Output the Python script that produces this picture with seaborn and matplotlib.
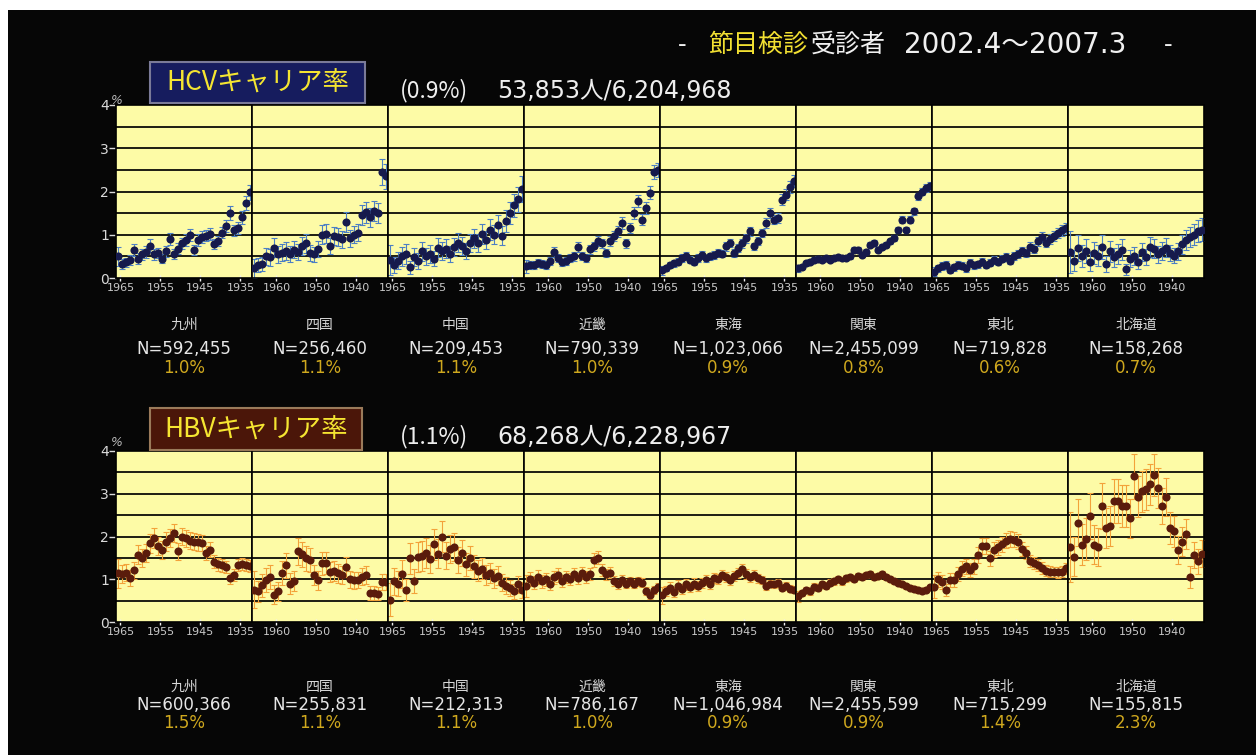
import numpy as np
import matplotlib
matplotlib.use("Agg")
import matplotlib.pyplot as plt
import seaborn as sns
from matplotlib.patches import Rectangle

# ---------------- data ----------------
regions = ["九州", "四国", "中国", "近畿", "東海", "関東", "東北", "北海道"]

# birth-year cohorts, youngest (left) to oldest (right)
birth_year = [1965.5 - i for i in range(34)]

hcv_kyushu = [0.50, 0.32, 0.36, 0.42, 0.65, 0.45, 0.55, 0.60, 0.75, 0.55, 0.58, 0.45,
              0.62, 0.90, 0.55, 0.68, 0.80, 0.88, 1.00, 0.65, 0.88, 0.95, 0.98, 1.02,
              0.78, 0.85, 1.05, 1.20, 1.50, 1.10, 1.15, 1.40, 1.73, 1.98]
hcv_shikoku = [0.22, 0.30, 0.33, 0.50, 0.48, 0.70, 0.55, 0.58, 0.62, 0.55, 0.65, 0.60,
               0.75, 0.80, 0.58, 0.55, 0.68, 1.00, 1.02, 0.75, 0.98, 0.95, 0.90, 1.30,
               0.92, 1.00, 1.05, 1.45, 1.52, 1.40, 1.55, 1.50, 2.45, 2.35]
hcv_chugoku = [0.42, 0.30, 0.40, 0.50, 0.55, 0.25, 0.48, 0.40, 0.62, 0.50, 0.55, 0.45,
               0.70, 0.62, 0.68, 0.55, 0.72, 0.82, 0.75, 0.62, 0.80, 0.92, 0.82, 1.02,
               0.88, 1.12, 1.00, 1.22, 0.98, 1.32, 1.50, 1.68, 1.82, 2.05]
hcv_kinki = [0.27, 0.30, 0.30, 0.34, 0.32, 0.30, 0.40, 0.61, 0.46, 0.36, 0.40, 0.46,
             0.50, 0.71, 0.50, 0.46, 0.66, 0.73, 0.85, 0.80, 0.58, 0.85, 0.96, 1.08,
             1.27, 0.80, 1.15, 1.50, 1.78, 1.35, 1.62, 1.97, 2.45, 2.50]
hcv_tokai = [0.18, 0.22, 0.30, 0.34, 0.38, 0.46, 0.50, 0.42, 0.38, 0.46, 0.53, 0.46,
             0.50, 0.53, 0.58, 0.56, 0.73, 0.81, 0.58, 0.69, 0.80, 0.92, 1.08, 0.73,
             0.85, 1.04, 1.27, 1.50, 1.35, 1.38, 1.81, 1.93, 2.10, 2.24]
hcv_kanto = [0.22, 0.26, 0.34, 0.38, 0.42, 0.44, 0.42, 0.46, 0.42, 0.46, 0.48, 0.46,
             0.46, 0.50, 0.65, 0.65, 0.53, 0.61, 0.77, 0.81, 0.65, 0.72, 0.77, 0.85,
             0.92, 1.12, 1.35, 1.12, 1.35, 1.54, 1.89, 2.00, 2.08, 2.12]
hcv_tohoku = [0.15, 0.22, 0.28, 0.30, 0.18, 0.25, 0.30, 0.28, 0.22, 0.35, 0.30, 0.32,
              0.38, 0.30, 0.35, 0.42, 0.38, 0.45, 0.48, 0.40, 0.50, 0.55, 0.62, 0.58,
              0.72, 0.68, 0.85, 0.95, 0.82, 0.90, 0.98, 1.05, 1.10, 1.15]
hcv_hokkaido = [0.60, 0.40, 0.70, 0.50, 0.62, 0.38, 0.58, 0.52, 0.72, 0.32, 0.62, 0.48,
                0.55, 0.65, 0.20, 0.45, 0.52, 0.38, 0.60, 0.48, 0.72, 0.68, 0.55, 0.62,
                0.70, 0.58, 0.52, 0.62, 0.78, 0.88, 0.95, 1.00, 1.08, 1.12]

hbv_kyushu = [1.14, 1.12, 1.15, 1.03, 1.21, 1.57, 1.49, 1.61, 1.84, 1.96, 1.77, 1.69,
              1.88, 1.96, 2.08, 1.65, 2.00, 1.96, 1.90, 1.88, 1.86, 1.84, 1.61, 1.69,
              1.41, 1.35, 1.33, 1.29, 1.02, 1.10, 1.33, 1.35, 1.33, 1.30]
hbv_shikoku = [0.76, 0.72, 0.86, 0.98, 1.06, 0.64, 0.72, 1.14, 1.33, 0.90, 0.96, 1.65,
               1.58, 1.49, 1.45, 1.10, 0.98, 1.37, 1.38, 1.18, 1.20, 1.14, 1.10, 1.29,
               1.00, 0.98, 0.98, 1.06, 1.10, 0.68, 0.68, 0.66, 0.94, 0.94]
hbv_chugoku = [0.52, 0.95, 0.90, 1.12, 0.75, 1.49, 0.95, 1.53, 1.55, 1.62, 1.48, 1.82,
               1.60, 2.00, 1.55, 1.70, 1.75, 1.45, 1.62, 1.35, 1.50, 1.30, 1.20, 1.25,
               1.10, 1.15, 1.02, 1.08, 0.92, 0.85, 0.80, 0.72, 0.88, 0.75]
hbv_kinki = [0.85, 1.00, 0.92, 1.05, 0.95, 1.00, 0.90, 1.05, 1.10, 0.95, 1.05, 1.00,
             1.12, 1.02, 1.15, 1.05, 1.12, 1.45, 1.50, 1.22, 1.12, 1.15, 0.95, 0.88,
             0.98, 0.90, 0.95, 0.90, 0.95, 0.92, 0.72, 0.62, 0.75, 0.82]
hbv_tokai = [0.62, 0.72, 0.80, 0.70, 0.85, 0.78, 0.88, 0.82, 0.90, 0.85, 0.92, 0.98,
             0.88, 1.02, 1.00, 1.10, 1.05, 0.98, 1.08, 1.15, 1.25, 1.12, 1.05, 1.10,
             1.02, 0.98, 0.85, 0.90, 0.88, 0.92, 0.80, 0.85, 0.78, 0.75]
hbv_kanto = [0.60, 0.68, 0.75, 0.72, 0.82, 0.80, 0.88, 0.85, 0.92, 0.95, 1.00, 0.95,
             1.02, 1.05, 1.00, 1.08, 1.05, 1.10, 1.12, 1.05, 1.08, 1.12, 1.05, 1.00,
             0.95, 0.92, 0.88, 0.84, 0.80, 0.78, 0.74, 0.72, 0.76, 0.82]
hbv_tohoku = [0.83, 1.00, 0.94, 0.75, 0.99, 0.98, 1.12, 1.25, 1.30, 1.22, 1.30, 1.57,
              1.77, 1.78, 1.49, 1.69, 1.75, 1.82, 1.90, 1.94, 1.92, 1.88, 1.70, 1.62,
              1.42, 1.38, 1.34, 1.26, 1.20, 1.18, 1.17, 1.16, 1.18, 1.26]
hbv_hokkaido = [1.75, 1.53, 2.32, 1.81, 1.94, 2.47, 1.81, 1.75, 2.71, 2.20, 2.24, 2.83,
                2.83, 2.71, 2.71, 2.43, 3.41, 2.93, 3.06, 3.10, 3.22, 3.45, 3.14, 2.71,
                2.93, 2.20, 2.12, 1.69, 1.88, 2.06, 1.06, 1.57, 1.42, 1.60]

hcv_n = [592455, 256460, 209453, 790339, 1023066, 2455099, 719828, 158268]
hcv_rate = [1.0, 1.1, 1.1, 1.0, 0.9, 0.8, 0.6, 0.7]
hbv_n = [600366, 255831, 212313, 786167, 1046984, 2455599, 715299, 155815]
hbv_rate = [1.5, 1.1, 1.1, 1.0, 0.9, 0.9, 1.4, 2.3]

# relative number of examinees per birth-year cohort (youngest first)
cohort_weight = [0.20, 0.55, 0.58, 0.60, 0.62, 0.65, 0.68, 0.70, 0.72, 0.75, 0.78, 0.80,
                 0.82, 0.85, 0.88, 0.90, 0.92, 0.95, 1.00, 1.02, 1.05, 1.08, 1.10, 1.12,
                 1.15, 1.18, 1.20, 1.22, 1.25, 1.25, 1.28, 1.30, 1.30, 1.30]

hcv_series = [hcv_kyushu, hcv_shikoku, hcv_chugoku, hcv_kinki,
              hcv_tokai, hcv_kanto, hcv_tohoku, hcv_hokkaido]
hbv_series = [hbv_kyushu, hbv_shikoku, hbv_chugoku, hbv_kinki,
              hbv_tokai, hbv_kanto, hbv_tohoku, hbv_hokkaido]

odd_ticks = [1965, 1955, 1945, 1935]
even_ticks = [1960, 1950, 1940]

# ---------------- style ----------------
sns.set_theme(style="white")
plt.rcParams["font.family"] = ["Noto Sans CJK JP", "DejaVu Sans"]
LATIN = ["DejaVu Sans", "Noto Sans CJK JP"]

W, H = 1256, 755
fig = plt.figure(figsize=(W / 100, H / 100), dpi=100)
fig.patch.set_facecolor("white")
fig.add_artist(Rectangle((8 / W, 0), 1 - 8 / W, 1 - 10 / H, transform=fig.transFigure,
                         facecolor="#060606", edgecolor="none", zorder=-10))


def fx(px):
    return px / W


def fy(py):
    return 1 - py / H


PANEL_BG = "#fdfba6"
GRID = "#1c1c12"
PANEL_LEFT, PANEL_W = 116, 136

weights = np.array(cohort_weight) / np.sum(cohort_weight)


def ci95(rate_pct, n_total):
    p = np.asarray(rate_pct) / 100.0
    n = n_total * weights
    return 1.96 * np.sqrt(p * (1 - p) / n) * 100.0


def draw_row(series, totals, rates, top, bottom, mcolor, ecolor, lab_y):
    for i, vals in enumerate(series):
        left = PANEL_LEFT + i * PANEL_W
        ax = fig.add_axes([fx(left), fy(bottom), PANEL_W / W, (bottom - top) / H])
        ax.set_facecolor(PANEL_BG)
        ax.grid(False)
        ax.set_xlim(1966.1, 1932.1)
        ax.set_ylim(0, 4)
        for yv in np.arange(0.5, 4.0, 0.5):
            ax.axhline(yv, color=GRID, lw=1.4, zorder=1)
        err = ci95(vals, totals[i])
        ax.errorbar(birth_year, vals, yerr=err, fmt="none", ecolor=ecolor,
                    elinewidth=0.8, capsize=2.2, capthick=0.8, zorder=2)
        sns.scatterplot(x=birth_year, y=vals, ax=ax, color=mcolor, s=34,
                        linewidth=0, zorder=3, legend=False)
        ax.set_xlabel("")
        ax.set_ylabel("")
        ticks = odd_ticks if i % 2 == 0 else even_ticks
        ax.set_xticks(ticks)
        ax.set_xticklabels([str(t) for t in ticks], fontsize=8, color="#c8c8c8",
                           family=["DejaVu Sans"])
        ax.tick_params(axis="x", direction="inout", length=5, width=1.0,
                       color="#f0f0f0", pad=1, bottom=True)
        if i == 0:
            ax.set_yticks([0, 1, 2, 3, 4])
            ax.set_yticklabels(["0", "1", "2", "3", "4"], fontsize=10,
                               color="#dadada", family=["DejaVu Sans"])
            ax.tick_params(axis="y", direction="out", length=5, width=1.0,
                           color="#dadada", pad=0, left=True)
        else:
            ax.set_yticks([])
        for sp in ax.spines.values():
            sp.set_color("#000000")
            sp.set_linewidth(1.2)

        cx = fx(left + PANEL_W / 2)
        fig.text(cx, fy(lab_y[0]), regions[i], ha="center", va="center",
                 fontsize=10, color="#d8d8d8")
        fig.text(cx, fy(lab_y[1]), f"N={totals[i]:,}", ha="center", va="center",
                 fontsize=12, color="#e6e6e6", family=LATIN)
        fig.text(cx, fy(lab_y[2]), f"{rates[i]:.1f}%", ha="center", va="center",
                 fontsize=12, color="#cfa81e", family=LATIN)


draw_row(hcv_series, hcv_n, hcv_rate, 105, 278, "#161a4c", "#4d7fc4", (325, 349, 368))
draw_row(hbv_series, hbv_n, hbv_rate, 451, 622, "#5a1c0c", "#f3a23a", (687, 705, 723))

# ---------------- headings ----------------
title_y = fy(45)
fig.text(fx(678), title_y, "-", color="#f0f0f0", fontsize=18, va="center")
fig.text(fx(708), title_y, "節目検診", color="#f2e032", fontsize=18, va="center")
fig.text(fx(811), title_y, "受診者", color="#f0f0f0", fontsize=18, va="center")
fig.text(fx(904), title_y, "2002.4～2007.3", color="#f0f0f0", fontsize=20,
         va="center", family=LATIN)
fig.text(fx(1164), title_y, "-", color="#f0f0f0", fontsize=18, va="center")


def label_box(x0, y0, x1, y1, face, edge, text, summary, count, text_y):
    fig.add_artist(Rectangle((fx(x0), fy(y1)), (x1 - x0) / W, (y1 - y0) / H,
                             transform=fig.transFigure, facecolor=face,
                             edgecolor=edge, lw=1.5))
    fig.text(fx((x0 + x1) / 2), fy((y0 + y1) / 2 + 1), text, ha="center", va="center",
             fontsize=19, color="#f5e531")
    fig.text(fx(400), fy(text_y), summary, ha="left", va="center",
             fontsize=16.5, color="#eeeeee")
    fig.text(fx(497), fy(text_y), count, ha="left", va="center",
             fontsize=17, color="#eeeeee", family=LATIN)


label_box(150, 62, 365, 103, "#161c5e", "#7a7a98", "HCVキャリア率",
          "(0.9%)", "53,853人/6,204,968", 91)
label_box(150, 408, 362, 450, "#4b1609", "#9a7a5a", "HBVキャリア率",
          "(1.1%)", "68,268人/6,228,967", 437)

fig.text(fx(117), fy(100), "%", color="#b8b8b8", fontsize=9, style="italic",
         ha="center", va="center", family=["DejaVu Sans"])
fig.text(fx(117), fy(443), "%", color="#b8b8b8", fontsize=9, style="italic",
         ha="center", va="center", family=["DejaVu Sans"])

fig.savefig("out.png", dpi=100, facecolor=fig.get_facecolor())
